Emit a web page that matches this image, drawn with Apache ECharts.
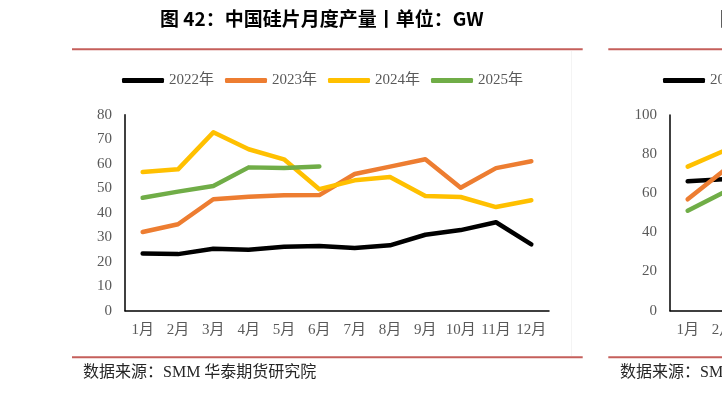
<!DOCTYPE html>
<html>
<head>
<meta charset="utf-8">
<script src="https://cdn.jsdelivr.net/npm/echarts@6/dist/echarts.min.js"></script>
<style>
html,body{margin:0;padding:0;background:#fff;overflow:hidden;width:722px;height:394px;}
#wrap{position:relative;width:722px;height:394px;overflow:hidden;}
#c1{position:absolute;left:0;top:0;width:596px;height:394px;}
#c2{position:absolute;left:596px;top:0;width:600px;height:394px;}
</style>
</head>
<body>
<div id="wrap"><div id="c1"></div><div id="c2"></div></div>
<script>
// ---- data (main chart: 中国硅片月度产量, GW) ----
const months = ['1月','2月','3月','4月','5月','6月','7月','8月','9月','10月','11月','12月'];
const seriesNames = ['2022年','2023年','2024年','2025年'];
const v2022 = [23.3, 23.1, 25.3, 24.9, 26.1, 26.4, 25.6, 26.7, 31.0, 32.9, 36.1, 27.1];
const v2023 = [32.1, 35.3, 45.5, 46.5, 47.1, 47.2, 55.8, 58.8, 61.8, 50.2, 58.2, 61.0];
const v2024 = [56.6, 57.7, 72.8, 65.9, 61.8, 49.6, 53.2, 54.6, 46.8, 46.4, 42.3, 45.1];
const v2025 = [46.1, 48.6, 50.9, 58.5, 58.2, 58.9];
const yTicksMain = [0, 80, 10];
// ---- data (right, partially visible chart) ----
const r2022 = [66.1, 67.2];
const r2023 = [56.9, 71.3];
const r2024 = [73.6, 81.5];
const r2025 = [51.1, 60.3];
const yTicksRight = [0, 100, 20];

const colors = ['#000000', '#ED7D31', '#FFC000', '#70AD47'];
const serif = '"Liberation Serif","Times New Roman","Noto Sans CJK SC",serif';
const gray = '#595959';
const red = '#C55F5B';

function mkSeries(name, data, color) {
  return {
    name: name, type: 'line', data: data,
    symbol: 'none', smooth: false, silent: true,
    lineStyle: { width: 4.5, color: color, cap: 'round', join: 'round' },
    itemStyle: { color: color }
  };
}
const axX = () => ({
  type: 'category', data: months, boundaryGap: true,
  axisLine: { show: true, lineStyle: { color: '#000', width: 1.5 } },
  axisTick: { show: false },
  axisLabel: { color: gray, fontFamily: serif, fontSize: 15, margin: 12, interval: 0 }
});
const axY = (t) => ({
  type: 'value', min: t[0], max: t[1], interval: t[2],
  axisLine: { show: true, lineStyle: { color: '#000', width: 1.5 } },
  axisTick: { show: false },
  splitLine: { show: false },
  axisLabel: { color: gray, fontFamily: serif, fontSize: 15, margin: 13 }
});
const titleFont = 'bold 19px "Noto Sans CJK SC",sans-serif';
const legendCommon = {
  icon: 'roundRect', itemWidth: 42, itemHeight: 5, itemGap: 11,
  textStyle: { color: gray, fontFamily: serif, fontSize: 15 }
};
const srcFont = '16px "Liberation Serif","Noto Sans CJK SC",serif';

// ---------- left (main) chart ----------
const chart1 = echarts.init(document.getElementById('c1'), null, { renderer: 'canvas' });
chart1.setOption({
  animation: false,
  backgroundColor: '#fff',
  legend: Object.assign({
    data: seriesNames.map((n, i) => ({ name: n, itemStyle: { color: colors[i] } })),
    left: 117, top: 68
  }, legendCommon),
  grid: { left: 125, top: 114.7, width: 424, height: 196, containLabel: false },
  xAxis: axX(),
  yAxis: axY(yTicksMain),
  series: [
    mkSeries(seriesNames[0], v2022, colors[0]),
    mkSeries(seriesNames[1], v2023, colors[1]),
    mkSeries(seriesNames[2], v2024, colors[2]),
    mkSeries(seriesNames[3], v2025, colors[3])
  ],
  graphic: [
    { type: 'text', x: 160, y: 9, style: { text: '图 42：中国硅片月度产量丨单位：GW', fill: '#000', font: titleFont } },
    { type: 'line', shape: { x1: 72, y1: 49.3, x2: 582.7, y2: 49.3 }, style: { stroke: red, lineWidth: 2 } },
    { type: 'line', shape: { x1: 72, y1: 357.3, x2: 582.7, y2: 357.3 }, style: { stroke: red, lineWidth: 2 } },
    { type: 'line', shape: { x1: 571.5, y1: 51, x2: 571.5, y2: 356 }, style: { stroke: '#F4F4F4', lineWidth: 1 } },
    { type: 'text', x: 83, y: 365, style: { text: '数据来源：SMM 华泰期货研究院', fill: '#262626', font: srcFont } }
  ]
});

// ---------- right (partially visible) chart, offset by 596px ----------
const chart2 = echarts.init(document.getElementById('c2'), null, { renderer: 'canvas' });
chart2.setOption({
  animation: false,
  backgroundColor: '#fff',
  legend: Object.assign({
    data: seriesNames.map((n, i) => ({ name: n, itemStyle: { color: colors[i] } })),
    left: 62, top: 68
  }, legendCommon),
  grid: { left: 74, top: 115, width: 424, height: 195.7, containLabel: false },
  xAxis: axX(),
  yAxis: axY(yTicksRight),
  series: [
    mkSeries(seriesNames[0], r2022, colors[0]),
    mkSeries(seriesNames[1], r2023, colors[1]),
    mkSeries(seriesNames[2], r2024, colors[2]),
    mkSeries(seriesNames[3], r2025, colors[3])
  ],
  graphic: [
    { type: 'text', x: 124, y: 9, style: { text: '图 43：中国硅片开工率丨单位：%', fill: '#000', font: titleFont } },
    { type: 'line', shape: { x1: 12.3, y1: 49.3, x2: 600, y2: 49.3 }, style: { stroke: red, lineWidth: 2 } },
    { type: 'line', shape: { x1: 12.3, y1: 357.3, x2: 600, y2: 357.3 }, style: { stroke: red, lineWidth: 2 } },
    { type: 'text', x: 24, y: 365, style: { text: '数据来源：SMM 华泰期货研究院', fill: '#262626', font: srcFont } }
  ]
});
</script>
</body>
</html>
